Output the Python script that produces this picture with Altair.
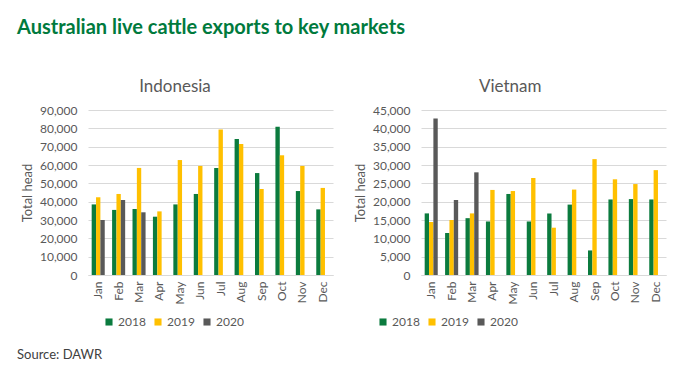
import altair as alt
import pandas as pd

months = ["Jan", "Feb", "Mar", "Apr", "May", "Jun", "Jul", "Aug", "Sep", "Oct", "Nov", "Dec"]
years = ["2018", "2019", "2020"]

indo_2018 = [38500, 35500, 36000, 31800, 38500, 44200, 58400, 74200, 55600, 80900, 45800, 35800]
indo_2019 = [42400, 44200, 58400, 34700, 62700, 59500, 79300, 71500, 46900, 65300, 59500, 47500]
indo_2020 = [30000, 40900, 34200]

viet_2018 = [16800, 11450, 15500, 14600, 22100, 14600, 16800, 19200, 6700, 20600, 20700, 20600]
viet_2019 = [14450, 15000, 16800, 23200, 22900, 26450, 12900, 23300, 31600, 26100, 24800, 28600]
viet_2020 = [42700, 20450, 28000]

colors = ["#0b7b3e", "#ffc000", "#595959"]
gray = "#595959"
font = "Lato"


def make_df(s18, s19, s20):
    rows = []
    for yr, series in zip(years, [s18, s19, s20]):
        for m, v in zip(months, series):
            rows.append({"month": m, "year": yr, "value": v})
    return pd.DataFrame(rows)


def panel(df, title, ymax, step, legend_x):
    return alt.Chart(df).mark_bar().encode(
        x=alt.X("month:N", sort=months, title=None,
                scale=alt.Scale(paddingInner=0.36, paddingOuter=0.18),
                axis=alt.Axis(labelAngle=270, ticks=False, domainColor="#d9d9d9",
                              labelColor=gray, labelFont=font, labelFontSize=12,
                              labelPadding=6)),
        xOffset=alt.XOffset("year:N", sort=years, scale=alt.Scale(domain=years)),
        y=alt.Y("value:Q", title="Total head",
                scale=alt.Scale(domain=[0, ymax], nice=False),
                axis=alt.Axis(values=list(range(0, ymax + 1, step)), format=",d",
                              domain=False, ticks=False, gridColor="#d9d9d9",
                              labelColor=gray, labelFont=font, labelFontSize=12,
                              labelPadding=11, titleColor=gray, titleFont=font,
                              titleFontSize=13, titleFontWeight="normal",
                              titlePadding=5)),
        color=alt.Color("year:N",
                        scale=alt.Scale(domain=years, range=colors),
                        legend=alt.Legend(orient="none", legendX=legend_x, legendY=206,
                                          direction="horizontal", title=None,
                                          symbolType="square", symbolSize=50,
                                          labelColor=gray, labelFont=font,
                                          labelFontSize=12, columnPadding=6,
                                          labelOffset=3, symbolStrokeWidth=0)),
    ).properties(
        width=245, height=165,
        title=alt.TitleParams(title, font=font, fontSize=17, fontWeight="normal",
                              color=gray, offset=8, frame="bounds"),
    )


source_df = pd.DataFrame({"t": ["Source: DAWR"]})
source = alt.Chart(source_df).mark_text(
    align="left", baseline="middle", font=font, fontSize=13, color="#404040"
).encode(text="t:N", x=alt.value(-71), y=alt.value(245))

left = alt.layer(
    panel(make_df(indo_2018, indo_2019, indo_2020), "Indonesia", 90000, 10000, 15),
    source,
)
right = panel(make_df(viet_2018, viet_2019, viet_2020), "Vietnam", 45000, 5000, -44)

chart = alt.hconcat(left, right, spacing=21).resolve_legend(color="independent").properties(
    padding={"left": 9, "top": 10, "right": 5, "bottom": 5},
    title=alt.TitleParams("Australian live cattle exports to key markets",
                          anchor="start", font=font, fontSize=20, fontWeight="bold",
                          color="#007a3d", offset=40, frame="bounds"),
).configure_view(stroke=None)

chart.save("out.html", embed_options={"renderer": "svg", "actions": False})
